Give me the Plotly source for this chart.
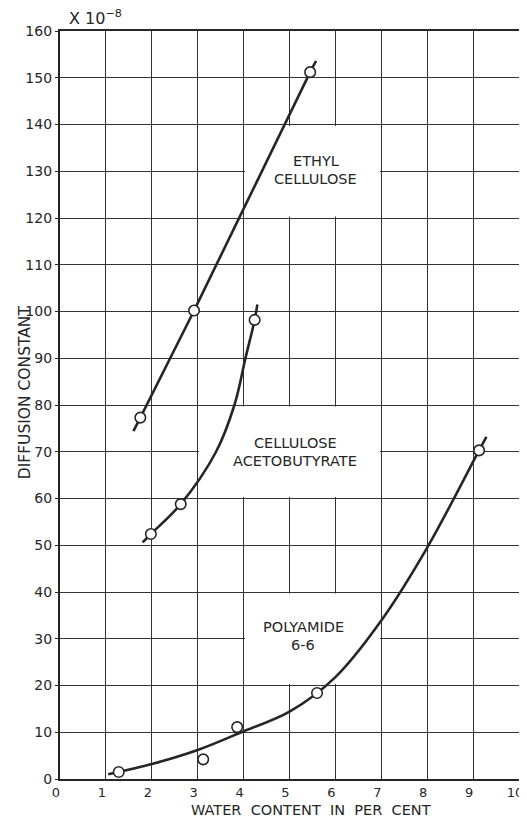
import plotly.graph_objects as go

# ---- data ----
x_ticks = [0, 1, 2, 3, 4, 5, 6, 7, 8, 9, 10]
y_ticks = [0, 10, 20, 30, 40, 50, 60, 70, 80, 90, 100, 110, 120, 130, 140, 150, 160]

ethyl_x = [1.75, 2.92, 5.45]
ethyl_y = [77.3, 100.2, 151.2]
ethyl_curve_x = [1.60, 1.75, 2.92, 5.45, 5.58]
ethyl_curve_y = [74.4, 77.3, 100.2, 151.2, 153.6]

aceto_x = [1.98, 2.63, 4.24]
aceto_y = [52.4, 58.8, 98.2]
aceto_curve_x = [1.80, 1.98, 2.63, 3.40, 3.80, 4.04, 4.24, 4.30]
aceto_curve_y = [50.6, 52.4, 58.8, 70.0, 80.0, 90.0, 98.2, 101.5]

poly_x = [1.28, 3.12, 3.86, 5.60, 9.13]
poly_y = [1.5, 4.2, 11.1, 18.4, 70.3]
poly_curve_x = [1.05, 2.0, 3.0, 4.0, 5.0, 6.0, 7.0, 8.0, 9.13, 9.29]
poly_curve_y = [1.0, 3.2, 6.2, 10.2, 14.4, 21.8, 33.9, 49.5, 70.3, 73.2]

label_line1 = ["ETHYL", "CELLULOSE", "POLYAMIDE"]
label_line2 = ["CELLULOSE", "ACETOBUTYRATE", "6-6"]
label_x = [5.57, 5.13, 5.30]
label_y1 = [132.3, 71.9, 32.5]
label_y2 = [128.4, 68.0, 28.6]
box_x0 = [4, 3, 4]
box_x1 = [7, 7, 7]
box_y0 = [120, 60, 20]
box_y1 = [140, 80, 40]

INK = "#262626"
FONT = "DejaVu Sans"

fig = go.Figure()

for cx, cy in [(ethyl_curve_x, ethyl_curve_y), (aceto_curve_x, aceto_curve_y),
               (poly_curve_x, poly_curve_y)]:
    fig.add_trace(go.Scatter(x=cx, y=cy, mode="lines",
                             line=dict(color=INK, width=2.6, shape="spline", smoothing=1.0),
                             hoverinfo="skip", showlegend=False))

for px, py in [(ethyl_x, ethyl_y), (aceto_x, aceto_y), (poly_x, poly_y)]:
    fig.add_trace(go.Scatter(x=px, y=py, mode="markers",
                             marker=dict(symbol="circle", size=10.5, color="white",
                                         line=dict(color=INK, width=1.6)),
                             showlegend=False))

# white label boxes that hide the grid (drawn between grid and traces)
for x0, x1, y0, y1 in zip(box_x0, box_x1, box_y0, box_y1):
    fig.add_shape(type="rect", xref="x", yref="y",
                  x0=x0 + 0.03, x1=x1 - 0.03, y0=y0 + 0.3, y1=y1 - 0.3,
                  fillcolor="white", line=dict(width=0), layer="between")

for t1, t2, lx, y1, y2 in zip(label_line1, label_line2, label_x, label_y1, label_y2):
    for t, ly in [(t1, y1), (t2, y2)]:
        fig.add_annotation(x=lx, y=ly, xref="x", yref="y", text=t, showarrow=False,
                           font=dict(family=FONT, size=14.5, color=INK), align="center")

fig.add_annotation(xref="paper", yref="paper", x=0, y=1, xanchor="left", yanchor="bottom",
                   xshift=7, yshift=1, text="X 10<sup>−8</sup>", showarrow=False,
                   font=dict(family=FONT, size=16, color=INK))

fig.add_annotation(xref="paper", yref="paper", x=0, y=0.517, xshift=-46, textangle=-90,
                   text="DIFFUSION CONSTANT", showarrow=False,
                   font=dict(family=FONT, size=15.5, color=INK))

fig.add_annotation(xref="paper", yref="paper", x=0.547, y=0, yshift=-30.5, yanchor="middle",
                   text="WATER\u00a0\u00a0CONTENT\u00a0\u00a0IN\u00a0\u00a0PER\u00a0\u00a0CENT",
                   showarrow=False,
                   font=dict(family=FONT, size=14.5, color=INK))

axis_common = dict(showgrid=True, gridcolor="#333333", gridwidth=1.4,
                   showline=True, linecolor=INK, linewidth=2.2, mirror=True,
                   zeroline=False)

fig.update_xaxes(range=[0, 10], tickvals=x_ticks, ticktext=[str(v) for v in x_ticks],
                 ticks="", ticklabeloverflow="allow", ticklabelshift=-4,
                 tickfont=dict(family=FONT, size=13, color=INK), **axis_common)
fig.update_yaxes(range=[0, 160], tickvals=y_ticks, ticktext=[str(v) for v in y_ticks],
                 ticks="outside", ticklen=3, tickcolor=INK,
                 tickfont=dict(family=FONT, size=14, color=INK), **axis_common)

# page body has an 8px margin, so the figure is 8px smaller than the window
fig.update_layout(width=519, height=810,
                  margin=dict(l=52, r=8, t=23, b=39, autoexpand=False),
                  plot_bgcolor="white", paper_bgcolor="white",
                  showlegend=False)

fig.write_html("out.html")
